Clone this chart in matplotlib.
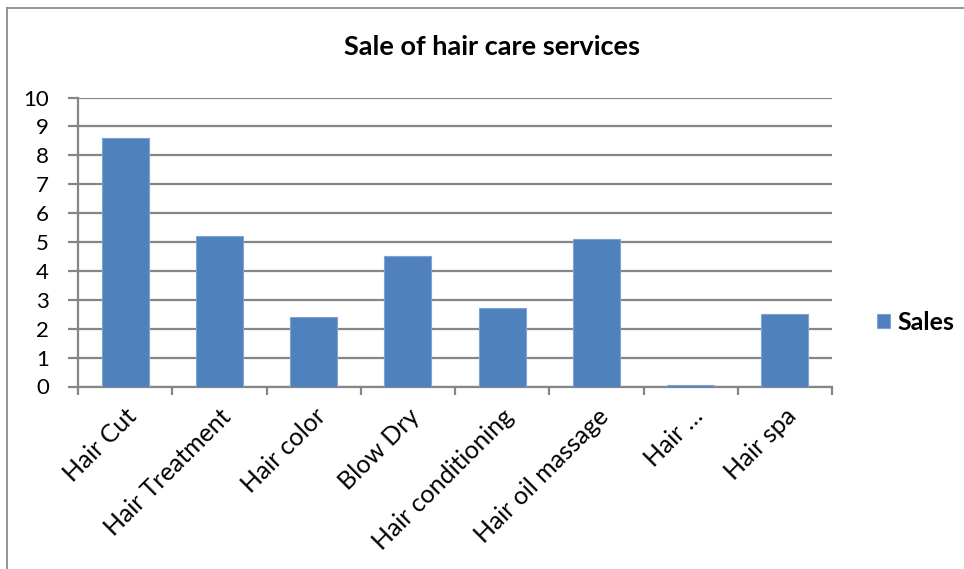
import matplotlib
matplotlib.use("Agg")
import matplotlib.pyplot as plt
from matplotlib.lines import Line2D

plt.rcParams['font.family'] = ['Lato', 'DejaVu Sans']

# Data
categories = ["Hair Cut", "Hair Treatment", "Hair color", "Blow Dry",
              "Hair conditioning", "Hair oil massage", "Hair \u2026", "Hair spa"]
sales = [8.6, 5.2, 2.4, 4.5, 2.7, 5.1, 0.05, 2.5]
y_ticks = list(range(0, 11))

W, H = 964, 569
fig = plt.figure(figsize=(W / 100, H / 100), dpi=100)

# Chart frame (left and top edges visible)
frame_color = "#8c8c8c"
fig.add_artist(Line2D([7 / W, 7 / W], [0, 1 - 8 / H], transform=fig.transFigure,
                      color=frame_color, lw=1.3))
fig.add_artist(Line2D([7 / W, 1], [1 - 8 / H, 1 - 8 / H], transform=fig.transFigure,
                      color=frame_color, lw=1.3))

left, right = 78 / W, 832 / W
bottom, top = 1 - 386.5 / H, 1 - 97.5 / H
ax = fig.add_axes([left, bottom, right - left, top - bottom])

grid_color = "#868686"
bar_color = "#4F81BD"

x = list(range(len(categories)))
ax.bar(x, sales, width=0.5, color=bar_color, edgecolor="#7fa3d3",
       linewidth=0.8, zorder=3, label="Sales")

ax.set_xlim(-0.5, len(categories) - 0.5)
ax.set_ylim(0, 10)
ax.set_yticks(y_ticks)
ax.set_yticklabels([str(v) for v in y_ticks], fontsize=16)
ax.yaxis.grid(True, color=grid_color, linewidth=1.6, zorder=0)

# Category ticks at boundaries, labels at centres
ax.set_xticks([i - 0.5 for i in range(len(categories) + 1)])
ax.set_xticklabels([])
ax.set_xticks(x, minor=True)
ax.set_xticklabels(categories, minor=True, rotation=45, ha="right",
                   rotation_mode="anchor", fontsize=18)
ax.tick_params(axis="x", which="minor", length=0, pad=13)
ax.tick_params(axis="x", which="major", length=6, width=1.6, color=grid_color,
               direction="out")
ax.tick_params(axis="y", length=7, width=1.6, color=grid_color,
               direction="out", pad=14)

for side in ("top", "right"):
    ax.spines[side].set_visible(False)
for side in ("left", "bottom"):
    ax.spines[side].set_color(grid_color)
    ax.spines[side].set_linewidth(1.6)

fig.text(492 / W, 1 - 47 / H, "Sale of hair care services", ha="center",
         va="center", fontsize=19.5, fontweight="bold")

# Legend
ax.legend(loc="center left", bbox_to_anchor=(877 / W, 1 - 322 / H),
          bbox_transform=fig.transFigure, frameon=False, borderpad=0,
          borderaxespad=0, handlelength=0.5, handleheight=0.5,
          handletextpad=0.32, prop={"weight": "bold", "size": 18})

fig.savefig("out.png", dpi=100)
